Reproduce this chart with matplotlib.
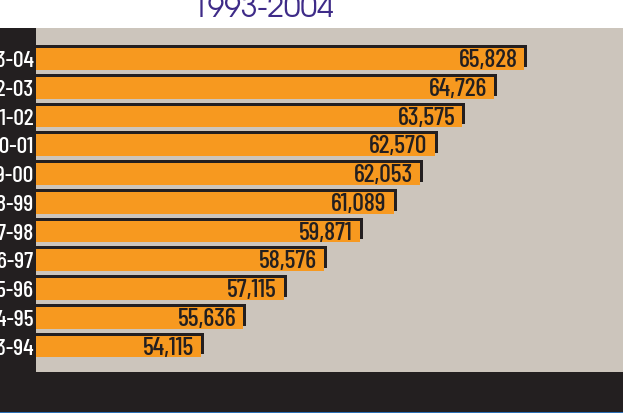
#!/usr/bin/env python3
"""Horizontal bar chart with drop shadows, 1993-2004."""

import matplotlib
matplotlib.use('Agg')
import matplotlib.pyplot as plt
import matplotlib.transforms as mtransforms
from matplotlib.patches import Rectangle

# ---------------------- Data ----------------------
years = ['2003-04', '2002-03', '2001-02', '2000-01', '1999-00', '1998-99',
         '1997-98', '1996-97', '1995-96', '1994-95', '1993-94']
values = [65828, 64726, 63575, 62570, 62053, 61089,
          59871, 58576, 57115, 55636, 54115]
title = '1993-2004'

# ---------------------- Style ----------------------
ORANGE = '#F7991F'
GRAY = '#CCC5BC'
DARK = '#231F20'
PURPLE = '#3E2B88'
BLUE = '#2B6FB5'
NARROW = ['Barlow Condensed', 'DejaVu Sans']
GEOM = ['TeX Gyre Adventor', 'Questrial', 'Lato', 'DejaVu Sans']

W, H = 623, 414
fig = plt.figure(figsize=(W / 100, H / 100), dpi=100)
fig.patch.set_facecolor('white')


def px(x0, y0, x1, y1):
    """Pixel box (from top-left) -> figure fraction rect."""
    return [x0 / W, 1 - y1 / H, (x1 - x0) / W, (y1 - y0) / H]


# background bands (behind the axes)
for box, col in [((0, 29, 36, 373), DARK), ((0, 373, W, 413), DARK), ((0, 413, W, 414), BLUE)]:
    r = px(*box)
    fig.patches.append(Rectangle((r[0], r[1]), r[2], r[3], transform=fig.transFigure,
                                 facecolor=col, edgecolor='none', zorder=-1))

ax = fig.add_axes(px(36, 29, W, 373))
ax.set_facecolor(GRAY)
for s in ax.spines.values():
    s.set_visible(False)
ax.set_xticks([])
ax.set_yticks([])

y = list(range(len(years)))
bar_h = 0.76
shadow = mtransforms.offset_copy(ax.transData, fig=fig, x=3, y=3, units='dots')
ax.barh(y, values, height=bar_h, color=DARK, transform=shadow, zorder=1)
ax.barh(y, values, height=bar_h, color=ORANGE, zorder=2)

ax.set_xlim(48130, 69400)
ax.set_ylim(10.887, -1.078)

for yi, v in zip(y, values):
    ax.annotate(f'{v:,}', xy=(v, yi), xytext=(-5, -5.2), textcoords='offset points',
                ha='right', va='baseline', fontsize=18.5, color=DARK,
                family=NARROW, fontweight=500, zorder=3)

# category labels, cut off at the left edge like the original
lab_tr = mtransforms.blended_transform_factory(fig.transFigure, ax.transData)
for yi, lab in zip(y, years):
    ax.annotate(lab, xy=(34 / W, yi), xycoords=lab_tr, xytext=(0, -5.2),
                textcoords='offset points', ha='right', va='baseline',
                fontsize=17, color='white', family=NARROW, fontweight=500,
                annotation_clip=False)

fig.text(262.5 / W, 1 - 17 / H, title, ha='center', va='baseline', fontsize=21.5,
         color=PURPLE, family=GEOM)

fig.savefig('out.png', dpi=100)
